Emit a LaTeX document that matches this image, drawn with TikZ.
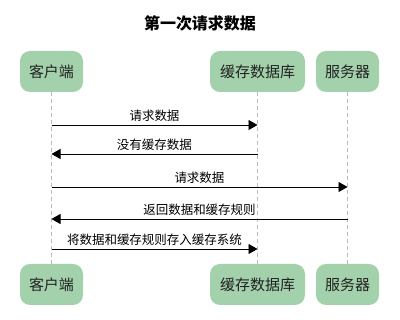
\documentclass[tikz,border=0pt]{standalone}
\usepackage{fontspec}
\setmainfont{Noto Sans CJK SC}
\usetikzlibrary{arrows.meta}
\definecolor{boxgreen}{HTML}{A3D1AB}
\definecolor{txt}{HTML}{222222}
\definecolor{life}{HTML}{BBBBBB}
\begin{document}
\begin{tikzpicture}[x=1pt,y=-1pt,
  actor/.style={draw=none,fill=boxgreen,rounded corners=10pt,minimum height=41pt,inner sep=0pt,
    font=\fontsize{15}{17}\selectfont,text=txt},
  lifeline/.style={draw=life,dashed,line width=0.8pt,dash pattern=on 4pt off 3pt},
  msg/.style={draw=black,line width=0.9pt,-{Triangle[length=9pt,width=10pt]}},
  lbl/.style={font=\fontsize{12.5}{14}\selectfont,text=black,inner sep=0pt,midway,yshift=9.5pt}]
\useasboundingbox (0,0) rectangle (400,320);
\node[font=\bfseries\fontsize{16}{18}\selectfont,text=black] (title) at (200,23) {第一次请求数据};
\node[actor,minimum width=63pt] (c1) at (51.5,71.5) {客户端};
\node[actor,minimum width=95pt] (d1) at (257.5,71.5) {缓存数据库};
\node[actor,minimum width=63pt] (s1) at (347.5,71.5) {服务器};
\node[actor,minimum width=63pt] (c2) at (51.5,284.5) {客户端};
\node[actor,minimum width=95pt] (d2) at (257.5,284.5) {缓存数据库};
\node[actor,minimum width=63pt] (s2) at (347.5,284.5) {服务器};
\draw[lifeline] (c1.south) -- (c2.north);
\draw[lifeline] (d1.south) -- (d2.north);
\draw[lifeline] (s1.south) -- (s2.north);
\coordinate (ca) at (51.5,125); \coordinate (da) at (257.5,125);
\coordinate (cb) at (51.5,154); \coordinate (db) at (257.5,154);
\coordinate (cc) at (51.5,187); \coordinate (sc) at (347.5,187);
\coordinate (cd) at (51.5,219); \coordinate (sd) at (347.5,219);
\coordinate (ce) at (51.5,249); \coordinate (de) at (257.5,249);
\draw[msg] (ca) -- node[lbl] {请求数据} (da);
\draw[msg] (db) -- node[lbl] {没有缓存数据} (cb);
\draw[msg] (cc) -- node[lbl] {请求数据} (sc);
\draw[msg] (sd) -- node[lbl] {返回数据和缓存规则} (cd);
\draw[msg] (ce) -- node[lbl] {将数据和缓存规则存入缓存系统} (de);
\end{tikzpicture}
\end{document}
